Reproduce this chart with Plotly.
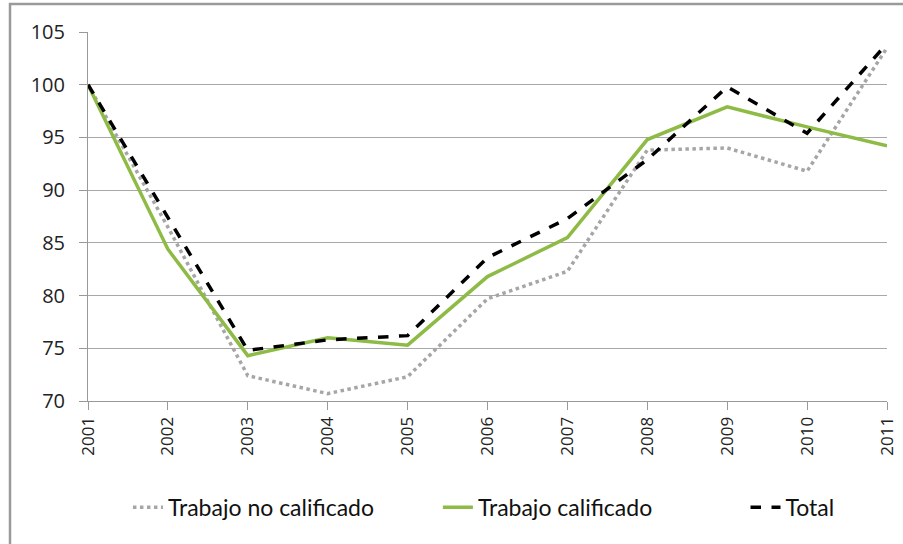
import plotly.graph_objects as go

years = [2001, 2002, 2003, 2004, 2005, 2006, 2007, 2008, 2009, 2010, 2011]
no_calificado = [100, 86.5, 72.4, 70.7, 72.3, 79.7, 82.3, 93.8, 94.0, 91.8, 103.5]
calificado = [100, 84.4, 74.3, 76.0, 75.3, 81.8, 85.5, 94.8, 97.9, 96.0, 94.2]
total = [100, 87.4, 74.8, 75.8, 76.2, 83.6, 87.3, 92.9, 99.8, 95.4, 103.9]
ytick_vals = [70, 75, 80, 85, 90, 95, 100, 105]
nbsp = "\u00a0"

fig = go.Figure()
fig.add_trace(go.Scatter(x=years, y=no_calificado, mode="lines",
                         name="Trabajo no calificado" + nbsp * 10,
                         line=dict(color="#a6a6a6", width=3.5, dash="dot")))
fig.add_trace(go.Scatter(x=years, y=calificado, mode="lines",
                         name="Trabajo calificado" + nbsp * 15,
                         line=dict(color="#8dbb45", width=3.5)))
fig.add_trace(go.Scatter(x=years, y=total, mode="lines", name="Total",
                         line=dict(color="#000000", width=3.5, dash="dash")))

L, R, T, B = 88, 16, 32, 143
W, H = 903, 544
pw, ph = W - L - R, H - T - B

fig.update_layout(
    width=W, height=H,
    margin=dict(l=L, r=R, t=T, b=B, autoexpand=False),
    paper_bgcolor="white", plot_bgcolor="white",
    font=dict(family="Open Sans, DejaVu Sans, sans-serif", color="#222222"),
    showlegend=True,
    legend=dict(orientation="h", x=0.05, y=-0.23, xanchor="left", yanchor="top",
                font=dict(size=23, family="Lato", color="#111111"),
                traceorder="normal", bgcolor="rgba(0,0,0,0)"),
    xaxis=dict(range=[2001, 2011], tickvals=years, ticktext=[str(y) for y in years],
               tickangle=-90, showgrid=False, showline=True, linecolor="#999999",
               linewidth=1, ticks="outside", ticklen=8, tickcolor="#999999",
               tickfont=dict(size=17), zeroline=False, automargin=False),
    yaxis=dict(range=[70, 105], tickvals=ytick_vals, showgrid=True, gridcolor="#a8a8a8",
               gridwidth=1, showline=True, linecolor="#999999", linewidth=1,
               ticks="outside", ticklen=8, tickcolor="#999999", ticklabelstandoff=10,
               tickfont=dict(size=20), zeroline=False, automargin=False),
    shapes=[dict(type="rect", xref="paper", yref="paper",
                 x0=(10 - L) / pw, x1=(W + 20 - L) / pw,
                 y0=(H - B - 548) / ph, y1=(H - B - 4) / ph,
                 line=dict(color="#9a9a9a", width=2.5), fillcolor="rgba(0,0,0,0)",
                 layer="below")],
)

fig.write_html("out.html", config={"displayModeBar": False},
               post_script="document.body.style.margin='0';document.body.style.overflow='hidden';")
